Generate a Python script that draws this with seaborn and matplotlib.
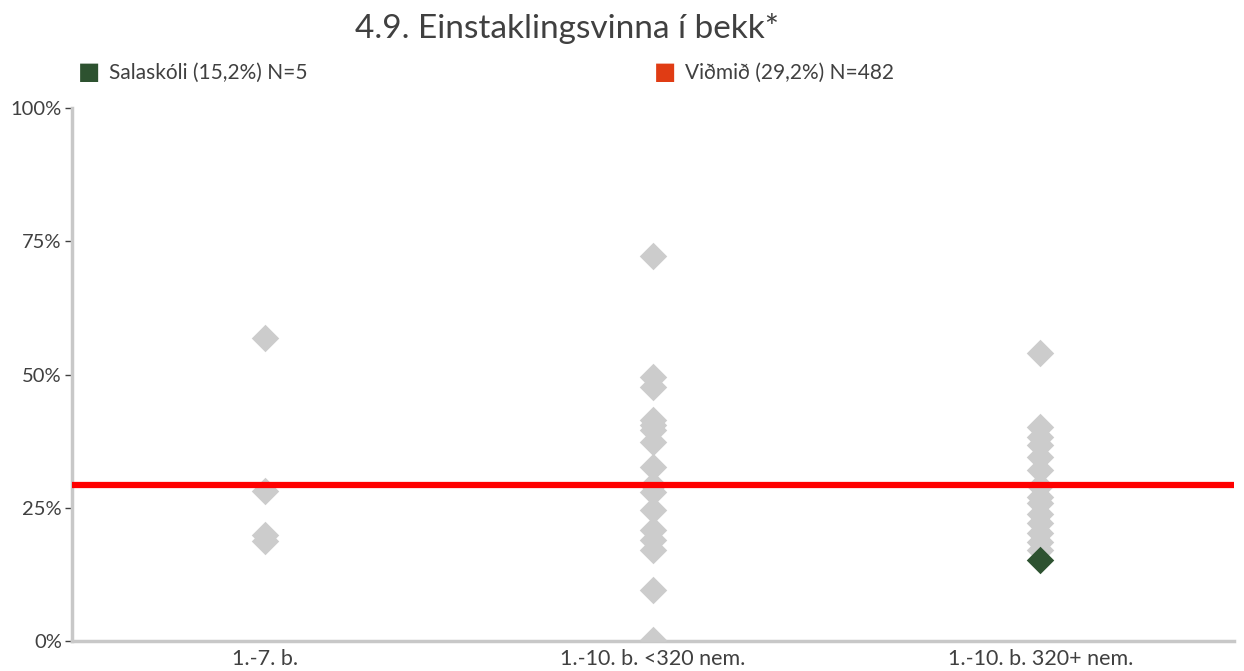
import seaborn as sns
import matplotlib.pyplot as plt
import pandas as pd
import numpy as np

# Data
categories = ["1.-7. b.", "1.-10. b. <320 nem.", "1.-10. b. 320+ nem."]
vals_small = [56.8, 28.2, 19.9, 18.7]
vals_mid = [72.2, 49.6, 47.7, 41.5, 40.5, 39.6, 37.4, 32.7, 29.3, 28.0,
            24.6, 20.8, 18.9, 17.1, 9.6, 0.2]
vals_big = [54.1, 40.2, 38.3, 36.8, 34.6, 32.1, 29.0, 27.1, 25.8, 23.9,
            22.1, 20.3, 18.5, 17.1]
school_cat = "1.-10. b. 320+ nem."
school_val = 15.2
ref_val = 29.2
school_label = "Salaskóli (15,2%) N=5"
ref_label = "Viðmið (29,2%) N=482"
yticks = [0, 25, 50, 75, 100]

df = pd.DataFrame({
    "cat": [categories[0]] * len(vals_small) + [categories[1]] * len(vals_mid)
           + [categories[2]] * len(vals_big),
    "val": vals_small + vals_mid + vals_big,
})
school = pd.DataFrame({"cat": [school_cat], "val": [school_val]})

sns.set_style("white")
plt.rcParams["font.family"] = ["Lato", "DejaVu Sans"]

fig = plt.figure(figsize=(12.44, 6.71), dpi=100)
ax = fig.add_axes([0.0575, 0.0447, 0.9345, 0.7943])

sns.stripplot(data=df, x="cat", y="val", order=categories, jitter=False,
              marker="D", s=14, color="#CCCCCC", linewidth=0, ax=ax)
sns.stripplot(data=school, x="cat", y="val", order=categories, jitter=False,
              marker="D", s=14, color="#2D5230", linewidth=0, ax=ax, zorder=5)
ax.axhline(ref_val, color="#FF0000", lw=4.5, zorder=4)

ax.set_xlim(-0.5, 2.5)
ax.set_ylim(0, 100)
ax.set_yticks(yticks)
ax.set_yticklabels([f"{t}%" for t in yticks], fontsize=14.5, color="#404040")
ax.set_xticklabels(categories, fontsize=15.5, color="#404040")
ax.set_xlabel("")
ax.set_ylabel("")
ax.tick_params(axis="y", left=True, length=5, width=1, color="#404040", pad=2)
ax.tick_params(axis="x", bottom=False, pad=2)
for s in ["top", "right"]:
    ax.spines[s].set_visible(False)
for s in ["left", "bottom"]:
    ax.spines[s].set_color("#C8C8C8")
    ax.spines[s].set_linewidth(2.5)

fig.text(0.456, 0.958, "4.9. Einstaklingsvinna í bekk*", ha="center", va="center",
         fontsize=24, color="#404040")
fig.text(0.063, 0.892, "■", ha="left", va="center", fontsize=17, color="#2D5230",
         family="DejaVu Sans")
fig.text(0.088, 0.892, school_label, ha="left", va="center", fontsize=15, color="#404040")
fig.text(0.526, 0.892, "■", ha="left", va="center", fontsize=17, color="#E03C14",
         family="DejaVu Sans")
fig.text(0.551, 0.892, ref_label, ha="left", va="center", fontsize=15, color="#404040")

fig.savefig("out.png", dpi=100)
